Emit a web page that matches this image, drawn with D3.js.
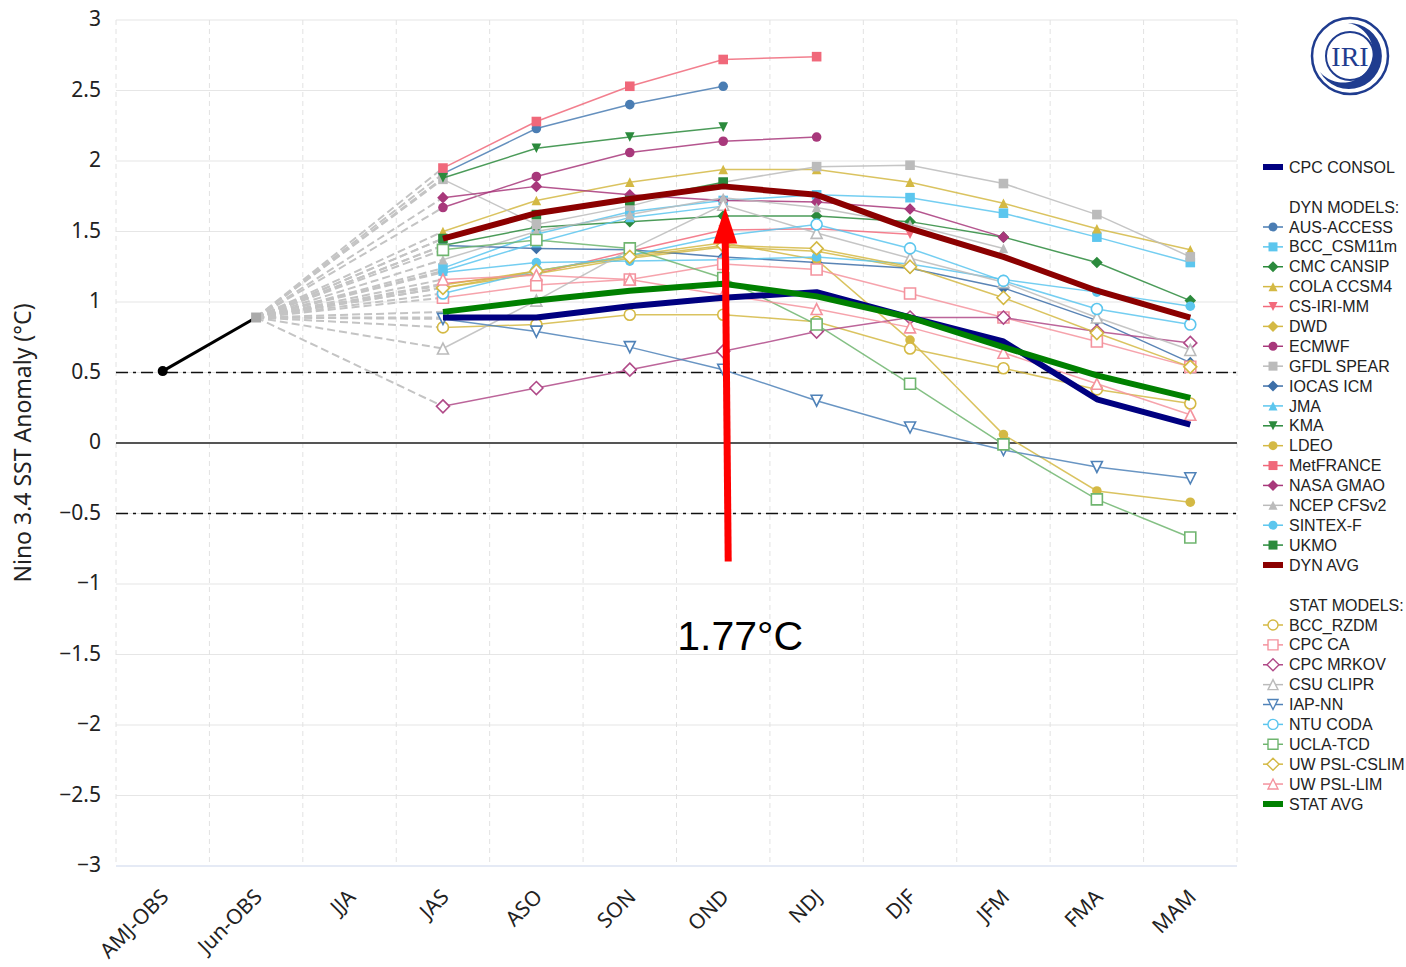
<!DOCTYPE html>
<html>
  <head>
    <style>
      html,
      body { margin: 0; background: #fff; }
      svg { display: block; font-family: "Noto Sans", "Open Sans", sans-serif; }
    </style>
    <script src="https://d3js.org/d3.v7.js"></script>
  </head>
  <body>
    <svg class="chart"></svg>

    <script>
      const width = 1406;
      const height = 967;
      const margin = { top: 20, right: 169, bottom: 101, left: 116 };

      // seasons on the x axis
      const seasons = ['AMJ-OBS', 'Jun-OBS', 'JJA', 'JAS', 'ASO', 'SON', 'OND', 'NDJ', 'DJF', 'JFM', 'FMA', 'MAM'];
      const forecastSeasons = ['JAS', 'ASO', 'SON', 'OND', 'NDJ', 'DJF', 'JFM', 'FMA', 'MAM'];
      const yTicks = [3, 2.5, 2, 1.5, 1, 0.5, 0, -0.5, -1, -1.5, -2, -2.5, -3];

      // observed values
      const obsValues = [0.51, 0.89];

      // consolidated forecast
      const cpcConsol = [0.89, 0.89, 0.97, 1.03, 1.07, 0.89, 0.72, 0.31, 0.13];

      // dynamical models, JAS .. MAM
      const ausAccess = [1.91, 2.23, 2.40, 2.53, null, null, null, null, null];
      const bccCsm = [1.24, 1.48, 1.64, 1.72, 1.76, 1.74, 1.63, 1.46, 1.28];
      const cmcCansip = [1.40, 1.53, 1.57, 1.61, 1.61, 1.57, 1.46, 1.28, 1.01];
      const colaCcsm4 = [1.50, 1.72, 1.85, 1.94, 1.94, 1.85, 1.70, 1.52, 1.37];
      const csIriMm = [1.13, 1.20, 1.36, 1.51, 1.52, 1.48, null, null, null];
      const dwd = [1.10, 1.20, 1.31, 1.39, 1.36, 1.24, null, null, null];
      const ecmwf = [1.67, 1.89, 2.06, 2.14, 2.17, null, null, null, null];
      const gfdlSpear = [1.87, 1.55, 1.68, 1.85, 1.96, 1.97, 1.84, 1.62, 1.32];
      const iocasIcm = [1.40, 1.38, 1.37, 1.32, 1.28, 1.24, 1.10, 0.87, 0.57];
      const jma = [1.22, 1.42, 1.60, 1.68, null, null, null, null, null];
      const kma = [1.88, 2.09, 2.17, 2.24, null, null, null, null, null];
      const ldeo = [1.12, 1.22, 1.33, 1.42, 1.30, 0.73, 0.06, -0.34, -0.42];
      const metFrance = [1.95, 2.28, 2.53, 2.72, 2.74, null, null, null, null];
      const nasaGmao = [1.74, 1.82, 1.76, 1.72, 1.71, 1.66, 1.46, null, null];
      const ncepCfsv2 = [1.30, 1.50, 1.62, 1.74, 1.67, 1.55, 1.38, null, null];
      const sintexF = [1.21, 1.28, 1.29, 1.30, 1.32, 1.27, 1.16, 1.07, 0.97];
      const ukmo = [1.45, 1.62, 1.72, 1.85, null, null, null, null, null];
      const dynAvg = [1.45, 1.63, 1.73, 1.82, 1.76, 1.52, 1.32, 1.08, 0.89];

      // statistical models, JAS .. MAM
      const bccRzdm = [0.82, 0.84, 0.91, 0.91, 0.86, 0.67, 0.53, 0.38, 0.28];
      const cpcCa = [1.03, 1.12, 1.16, 1.27, 1.23, 1.06, 0.89, 0.72, 0.54];
      const cpcMrkov = [0.26, 0.39, 0.52, 0.65, 0.79, 0.89, 0.89, 0.79, 0.71];
      const csuClipr = [0.67, 1.01, 1.37, 1.69, 1.49, 1.31, 1.14, 0.89, 0.66];
      const iapNn = [0.88, 0.79, 0.68, 0.52, 0.30, 0.11, -0.05, -0.17, -0.25];
      const ntuCoda = [1.06, 1.22, 1.33, 1.47, 1.55, 1.38, 1.15, 0.95, 0.84];
      const uclaTcd = [1.37, 1.44, 1.38, 1.17, 0.84, 0.42, -0.01, -0.40, -0.67];
      const uwCslim = [1.10, 1.22, 1.32, 1.40, 1.38, 1.25, 1.03, 0.78, 0.54];
      const uwLim = [1.16, 1.19, 1.16, 1.05, 0.95, 0.82, 0.64, 0.42, 0.20];
      const statAvg = [0.93, 1.01, 1.08, 1.13, 1.04, 0.89, 0.68, 0.48, 0.32];

      const series = [
        { name: 'AUS-ACCESS', values: ausAccess, color: '#4a7db3', shape: 'circle' },
        { name: 'BCC_CSM11m', values: bccCsm, color: '#5cc6ee', shape: 'square' },
        { name: 'CMC CANSIP', values: cmcCansip, color: '#2b8a3c', shape: 'diamond' },
        { name: 'COLA CCSM4', values: colaCcsm4, color: '#d4b944', shape: 'triangle' },
        { name: 'CS-IRI-MM', values: csIriMm, color: '#f26a7b', shape: 'triangle-down' },
        { name: 'DWD', values: dwd, color: '#d4b944', shape: 'diamond' },
        { name: 'ECMWF', values: ecmwf, color: '#a8387b', shape: 'circle' },
        { name: 'GFDL SPEAR', values: gfdlSpear, color: '#bbbbbb', shape: 'square' },
        { name: 'IOCAS ICM', values: iocasIcm, color: '#3d6fa8', shape: 'diamond' },
        { name: 'JMA', values: jma, color: '#5cc6ee', shape: 'triangle' },
        { name: 'KMA', values: kma, color: '#2b8a3c', shape: 'triangle-down' },
        { name: 'LDEO', values: ldeo, color: '#d4b944', shape: 'circle' },
        { name: 'MetFRANCE', values: metFrance, color: '#f0687a', shape: 'square' },
        { name: 'NASA GMAO', values: nasaGmao, color: '#a8387b', shape: 'diamond' },
        { name: 'NCEP CFSv2', values: ncepCfsv2, color: '#bbbbbb', shape: 'triangle' },
        { name: 'SINTEX-F', values: sintexF, color: '#5cc6ee', shape: 'circle' },
        { name: 'UKMO', values: ukmo, color: '#2b8a3c', shape: 'square' },
        { name: 'BCC_RZDM', values: bccRzdm, color: '#d4b944', shape: 'circle', hollow: true },
        { name: 'CPC CA', values: cpcCa, color: '#f4939e', shape: 'square', hollow: true },
        { name: 'CPC MRKOV', values: cpcMrkov, color: '#b04a88', shape: 'diamond', hollow: true },
        { name: 'CSU CLIPR', values: csuClipr, color: '#bbbbbb', shape: 'triangle', hollow: true },
        { name: 'IAP-NN', values: iapNn, color: '#4f82b8', shape: 'triangle-down', hollow: true },
        { name: 'NTU CODA', values: ntuCoda, color: '#5cc6ee', shape: 'circle', hollow: true },
        { name: 'UCLA-TCD', values: uclaTcd, color: '#6fb56f', shape: 'square', hollow: true },
        { name: 'UW PSL-CSLIM', values: uwCslim, color: '#d4b944', shape: 'diamond', hollow: true },
        { name: 'UW PSL-LIM', values: uwLim, color: '#f4939e', shape: 'triangle', hollow: true },
      ];

      const averages = [
        { name: 'CPC CONSOL', values: cpcConsol, color: '#000080' },
        { name: 'DYN AVG', values: dynAvg, color: '#8b0000' },
        { name: 'STAT AVG', values: statAvg, color: '#008000' },
      ];

      const svg = d3.select('svg')
        .attr('width', width)
        .attr('height', height);

      const x = d3.scaleBand()
        .domain(seasons)
        .range([margin.left, width - margin.right]);

      const xc = (s) => x(s) + x.bandwidth() / 2;

      const y = d3.scaleLinear()
        .domain([-3, 3])
        .range([height - margin.bottom, margin.top]);

      // marker path for a shape of half-size r
      const markerPath = (shape, r) => {
        if (shape === 'circle') return d3.arc()({ innerRadius: 0, outerRadius: r, startAngle: 0, endAngle: 2 * Math.PI });
        if (shape === 'square') return `M${-r},${-r}H${r}V${r}H${-r}Z`;
        if (shape === 'diamond') return `M0,${-r - 1}L${r + 1},0L0,${r + 1}L${-r - 1},0Z`;
        if (shape === 'triangle') return `M0,${-r}L${r},${r}H${-r}Z`;
        return `M${-r},${-r}H${r}L0,${r}Z`;
      };

      // grid
      const grid = svg.append('g');

      grid.selectAll('.hgrid')
        .data(yTicks)
        .join('line')
        .attr('x1', margin.left)
        .attr('x2', width - margin.right)
        .attr('y1', (d) => y(d))
        .attr('y2', (d) => y(d))
        .attr('stroke', (d) => (d === -3 ? '#ccd6eb' : '#e6e6e6'))
        .attr('stroke-width', 1.2);

      grid.selectAll('.vgrid')
        .data(seasons.concat(['end']))
        .join('line')
        .attr('x1', (d, i) => margin.left + i * x.bandwidth())
        .attr('x2', (d, i) => margin.left + i * x.bandwidth())
        .attr('y1', margin.top)
        .attr('y2', height - margin.bottom)
        .attr('stroke', '#e2e2e2')
        .attr('stroke-dasharray', '5,4');

      grid.append('line')
        .attr('x1', margin.left)
        .attr('x2', width - margin.right)
        .attr('y1', y(0))
        .attr('y2', y(0))
        .attr('stroke', '#555')
        .attr('stroke-width', 2);

      grid.selectAll('.thresh')
        .data([0.5, -0.5])
        .join('line')
        .attr('x1', margin.left)
        .attr('x2', width - margin.right)
        .attr('y1', (d) => y(d))
        .attr('y2', (d) => y(d))
        .attr('stroke', '#111')
        .attr('stroke-width', 1.5)
        .attr('stroke-dasharray', '12,5,3,5');

      // y axis labels
      svg.append('g')
        .selectAll('text')
        .data(yTicks)
        .join('text')
        .attr('x', 101)
        .attr('y', (d) => y(d) - 1)
        .attr('dy', '0.35em')
        .attr('text-anchor', 'end')
        .style('font-size', '21px')
        .style('fill', '#222')
        .text((d) => (d < 0 ? '\u2212' + Math.abs(d) : d));

      svg.append('text')
        .attr('transform', `translate(31,${y(0)}) rotate(-90)`)
        .attr('text-anchor', 'middle')
        .style('font-size', '23px')
        .style('fill', '#222')
        .text('Nino 3.4 SST Anomaly (°C)');

      // x axis labels
      svg.append('g')
        .selectAll('text')
        .data(seasons)
        .join('text')
        .attr('transform', (d) => `translate(${xc(d) + 2},${height - margin.bottom + 27}) rotate(-45)`)
        .attr('text-anchor', 'end')
        .attr('dy', '0.35em')
        .style('font-size', '21px')
        .style('fill', '#222')
        .text((d) => d);

      const line = d3.line()
        .defined((d) => d.v !== null)
        .x((d) => xc(d.s))
        .y((d) => y(d.v));

      const toPoints = (values) => values.map((v, i) => ({ s: forecastSeasons[i], v }));

      // dashed connectors from the last observation
      const lastObs = { s: 'Jun-OBS', v: obsValues[1] };
      svg.append('g')
        .selectAll('path')
        .data(series.concat(averages))
        .join('path')
        .attr('d', (d) => line([lastObs, { s: 'JAS', v: d.values[0] }]))
        .attr('fill', 'none')
        .attr('stroke', '#c4c4c4')
        .attr('stroke-width', 2)
        .attr('stroke-dasharray', '8,4');

      // model lines and markers
      const models = svg.append('g')
        .selectAll('g')
        .data(series)
        .join('g');

      models.append('path')
        .attr('d', (d) => line(toPoints(d.values)))
        .attr('fill', 'none')
        .attr('stroke', (d) => d.color)
        .attr('stroke-width', 1.5)
        .attr('stroke-opacity', 0.85);

      models.selectAll('path.mk')
        .data((d) => toPoints(d.values).filter((p) => p.v !== null).map((p) => ({ ...p, m: d })))
        .join('path')
        .attr('class', 'mk')
        .attr('transform', (p) => `translate(${xc(p.s)},${y(p.v)})`)
        .attr('d', (p) => markerPath(p.m.shape, p.m.hollow ? 5.5 : 4.8))
        .attr('fill', (p) => (p.m.hollow ? '#fff' : p.m.color))
        .attr('stroke', (p) => (p.m.hollow ? p.m.color : 'none'))
        .attr('stroke-width', 1.6);

      // averages drawn on top
      svg.append('g')
        .selectAll('path')
        .data(averages)
        .join('path')
        .attr('d', (d) => line(toPoints(d.values)))
        .attr('fill', 'none')
        .attr('stroke', (d) => d.color)
        .attr('stroke-width', 6)
        .attr('stroke-linejoin', 'round');

      // observations
      const obsPts = obsValues.map((v, i) => ({ s: seasons[i], v }));
      svg.append('path')
        .attr('d', line(obsPts))
        .attr('fill', 'none')
        .attr('stroke', '#000')
        .attr('stroke-width', 3);

      svg.append('circle')
        .attr('cx', xc(seasons[0]))
        .attr('cy', y(obsValues[0]))
        .attr('r', 5)
        .attr('fill', '#000');

      svg.append('path')
        .attr('transform', `translate(${xc(seasons[1])},${y(obsValues[1])})`)
        .attr('d', markerPath('square', 5))
        .attr('fill', '#aaa');

      // legend
      const legend = svg.append('g').attr('transform', 'translate(1263,0)');
      const legendRows = [
        { name: 'CPC CONSOL', y: 167, avg: averages[0] },
        { name: 'DYN MODELS:', y: 207, header: true },
      ];
      series.slice(0, 17).forEach((s, i) => legendRows.push({ name: s.name, y: 227 + i * 19.88, s }));
      legendRows.push({ name: 'DYN AVG', y: 565, avg: averages[1] });
      legendRows.push({ name: 'STAT MODELS:', y: 605, header: true });
      series.slice(17).forEach((s, i) => legendRows.push({ name: s.name, y: 625 + i * 19.88, s }));
      legendRows.push({ name: 'STAT AVG', y: 804, avg: averages[2] });

      const rows = legend.selectAll('g')
        .data(legendRows)
        .join('g')
        .attr('transform', (d) => `translate(0,${d.y})`);

      rows.filter((d) => d.avg)
        .append('line')
        .attr('x1', 0)
        .attr('x2', 20)
        .attr('stroke', (d) => d.avg.color)
        .attr('stroke-width', 6);

      rows.filter((d) => d.s)
        .append('line')
        .attr('x1', 0)
        .attr('x2', 20)
        .attr('stroke', (d) => d.s.color)
        .attr('stroke-width', 1.5);

      rows.filter((d) => d.s)
        .append('path')
        .attr('transform', 'translate(10,0)')
        .attr('d', (d) => markerPath(d.s.shape, d.s.hollow ? 5 : 4.5))
        .attr('fill', (d) => (d.s.hollow ? '#fff' : d.s.color))
        .attr('stroke', (d) => (d.s.hollow ? d.s.color : 'none'))
        .attr('stroke-width', 1.4);

      rows.append('text')
        .attr('x', 26)
        .attr('dy', '0.35em')
        .style('font-family', '"Liberation Sans", Arial, sans-serif')
        .style('font-size', '16px')
        .style('fill', '#222')
        .text((d) => d.name);

      // annotation arrow
      const ax = xc('OND');
      const tipY = y(1.67);
      const baseY = y(-0.84);
      svg.append('line')
        .attr('x1', ax + 5)
        .attr('y1', baseY)
        .attr('x2', ax + 2)
        .attr('y2', tipY + 30)
        .attr('stroke', '#ff0000')
        .attr('stroke-width', 7);

      svg.append('path')
        .attr('d', `M${ax + 2},${tipY}L${ax + 14},${tipY + 36}L${ax - 10},${tipY + 36}Z`)
        .attr('fill', '#ff0000');

      svg.append('text')
        .attr('x', ax + 17)
        .attr('y', y(-1.47))
        .attr('text-anchor', 'middle')
        .style('font-family', '"Liberation Sans", Arial, sans-serif')
        .style('font-size', '41px')
        .style('fill', '#000')
        .text('1.77°C');

      // IRI logo
      const logo = svg.append('g').attr('transform', 'translate(1350,56)');
      logo.append('circle')
        .attr('r', 38)
        .attr('fill', 'none')
        .attr('stroke', '#1f3c8f')
        .attr('stroke-width', 2.5);
      logo.append('path')
        .attr('d', 'M-2,-33 A33,33 0 1 1 -30,16 A30,30 0 1 0 -2,-33 Z')
        .attr('fill', '#1f3c8f');
      logo.append('circle')
        .attr('r', 24)
        .attr('fill', 'none')
        .attr('stroke', '#1f3c8f')
        .attr('stroke-width', 2);
      logo.append('text')
        .attr('y', 10)
        .attr('text-anchor', 'middle')
        .style('font-family', '"Liberation Serif", serif')
        .style('font-size', '28px')
        .style('fill', '#1f3c8f')
        .text('IRI');
    </script>
  </body>
</html>
